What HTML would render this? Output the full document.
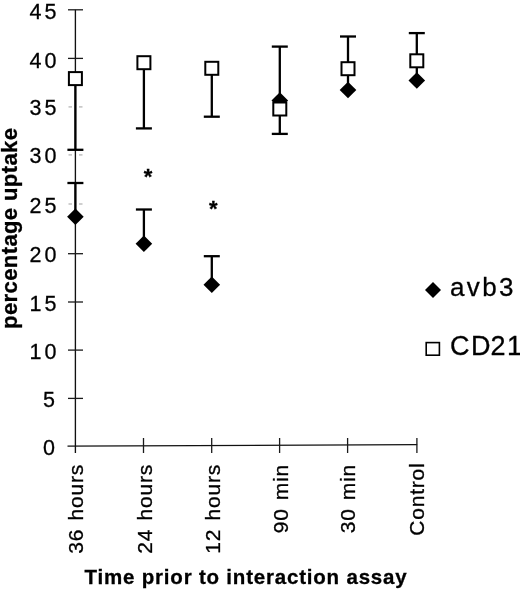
<!DOCTYPE html>
<html>
<head>
<meta charset="utf-8">
<style>
html,body{margin:0;padding:0;background:#fff;width:520px;height:590px;overflow:hidden;}
svg{display:block;filter:blur(0.35px);}
text{font-family:"Liberation Sans",Arial,sans-serif;fill:#000;stroke:#000;stroke-width:0.3px;}
.yl{font-size:21.5px;letter-spacing:3px;text-anchor:end;}
.xl{font-size:21px;letter-spacing:0.8px;word-spacing:1.5px;text-anchor:end;}
.ttl{font-size:20.5px;font-weight:bold;letter-spacing:0.8px;}
.leg{font-size:25px;}
</style>
</head>
<body>
<svg width="520" height="590" viewBox="0 0 520 590">

<g stroke="#111" stroke-width="1.35" fill="none">
<line x1="75.4" y1="9.8" x2="75.4" y2="453"/>
<line x1="67.5" y1="446.1" x2="417.2" y2="444.6" stroke-width="1.3"/>
</g>
<g stroke="#1a1a1a" stroke-width="1.3" fill="none">
<line x1="68" y1="9.8" x2="83" y2="9.8"/>
<line x1="68" y1="58.4" x2="83" y2="58.4"/>
<line x1="68" y1="253.7" x2="83" y2="253.7"/>
<line x1="68" y1="302.0" x2="83" y2="302.0"/>
<line x1="68" y1="350.1" x2="83" y2="350.1"/>
<line x1="68" y1="398.4" x2="83" y2="398.4"/>
<line x1="143.5" y1="438" x2="143.5" y2="453"/>
<line x1="211.7" y1="438" x2="211.7" y2="453"/>
<line x1="279.6" y1="438" x2="279.6" y2="453"/>
<line x1="347.6" y1="438" x2="347.6" y2="453"/>
<line x1="416.9" y1="438" x2="416.9" y2="453"/>
</g>
<g stroke="#bbb" stroke-width="1.4" fill="none">
<line x1="68.5" y1="106.9" x2="72" y2="106.9"/><line x1="79" y1="106.9" x2="82.5" y2="106.9"/>
<line x1="68.5" y1="154.9" x2="72" y2="154.9"/><line x1="79" y1="154.9" x2="82.5" y2="154.9"/>
<line x1="68.5" y1="204.0" x2="72" y2="204.0"/><line x1="79" y1="204.0" x2="82.5" y2="204.0"/>
</g>
<g class="yl">
<text x="59.5" y="19.0">45</text>
<text x="59.5" y="67.6">40</text>
<text x="59.5" y="115.4">35</text>
<text x="59.5" y="163.4">30</text>
<text x="59.5" y="212.5">25</text>
<text x="59.5" y="262.2">20</text>
<text x="59.5" y="310.5">15</text>
<text x="59.5" y="358.6">10</text>
<text x="58.0" y="406.9">5</text>
<text x="58.0" y="454.5">0</text>
</g>
<g class="xl">
<text transform="translate(83.2,464.0) rotate(-90)">36 hours</text>
<text transform="translate(152.0,464.0) rotate(-90)">24 hours</text>
<text transform="translate(220.2,464.0) rotate(-90)">12 hours</text>
<text transform="translate(287.8,464.0) rotate(-90)">90 min</text>
<text transform="translate(355.0,464.0) rotate(-90)">30 min</text>
<text transform="translate(424.2,462.5) rotate(-90)">Control</text>
</g>
<text class="ttl" transform="translate(16.8,228.3) rotate(-90)" text-anchor="middle" style="font-size:22px;letter-spacing:0.4px">percentage uptake</text>
<text class="ttl" x="246" y="584" text-anchor="middle">Time prior to interaction assay</text>
<g stroke="#000" stroke-width="2.3" fill="none">
<line x1="75.4" y1="78.6" x2="75.4" y2="149.8"/>
<line x1="67.4" y1="149.8" x2="83.4" y2="149.8"/>
<line x1="75.4" y1="216.7" x2="75.4" y2="183.0"/>
<line x1="67.4" y1="183.0" x2="83.4" y2="183.0"/>
<line x1="143.9" y1="62.7" x2="143.9" y2="128.4"/>
<line x1="135.9" y1="128.4" x2="151.9" y2="128.4"/>
<line x1="143.9" y1="243.7" x2="143.9" y2="209.5"/>
<line x1="135.9" y1="209.5" x2="151.9" y2="209.5"/>
<line x1="211.8" y1="68.3" x2="211.8" y2="116.7"/>
<line x1="203.8" y1="116.7" x2="219.8" y2="116.7"/>
<line x1="211.8" y1="284.7" x2="211.8" y2="256.2"/>
<line x1="203.8" y1="256.2" x2="219.8" y2="256.2"/>
<line x1="279.8" y1="109.0" x2="279.8" y2="133.9"/>
<line x1="271.8" y1="133.9" x2="287.8" y2="133.9"/>
<line x1="279.8" y1="100.5" x2="279.8" y2="46.6"/>
<line x1="271.8" y1="46.6" x2="287.8" y2="46.6"/>
<line x1="348.0" y1="90.0" x2="348.0" y2="36.5"/>
<line x1="340.0" y1="36.5" x2="356.0" y2="36.5"/>
<line x1="416.8" y1="80.5" x2="416.8" y2="33.1"/>
<line x1="408.8" y1="33.1" x2="424.8" y2="33.1"/>
</g>
<g fill="#000">
<polygon points="75.4,208.4 83.7,216.7 75.4,225.0 67.1,216.7"/>
<polygon points="143.9,235.4 152.2,243.7 143.9,252.0 135.6,243.7"/>
<polygon points="211.8,276.4 220.1,284.7 211.8,293.0 203.5,284.7"/>
<polygon points="279.8,92.2 288.1,100.5 279.8,108.8 271.5,100.5"/>
<polygon points="348.0,81.7 356.3,90.0 348.0,98.3 339.7,90.0"/>
<polygon points="416.8,72.2 425.1,80.5 416.8,88.8 408.5,80.5"/>
</g>
<g fill="#fff" stroke="#000" stroke-width="2">
<rect x="68.9" y="72.1" width="13" height="13"/>
<rect x="137.4" y="56.2" width="13" height="13"/>
<rect x="205.3" y="61.8" width="13" height="13"/>
<rect x="273.3" y="102.5" width="13" height="13"/>
<rect x="341.5" y="62.2" width="13" height="13"/>
<rect x="410.3" y="54.3" width="13" height="13"/>
</g>
<text x="148" y="184" text-anchor="middle" style="font-size:22px;font-weight:bold">*</text>
<text x="213.2" y="216" text-anchor="middle" style="font-size:22px;font-weight:bold">*</text>
<polygon points="433,282 441,290 433,298 425,290" fill="#000"/>
<rect x="426.2" y="342.6" width="13.2" height="12.6" fill="#fff" stroke="#000" stroke-width="1.6"/>
<text class="leg" x="450" y="295.8" style="font-size:26px;letter-spacing:2.4px">avb3</text>
<text class="leg" x="450 471 490.5 507" y="355" style="font-size:27px">CD21</text>
</svg>
</body>
</html>
